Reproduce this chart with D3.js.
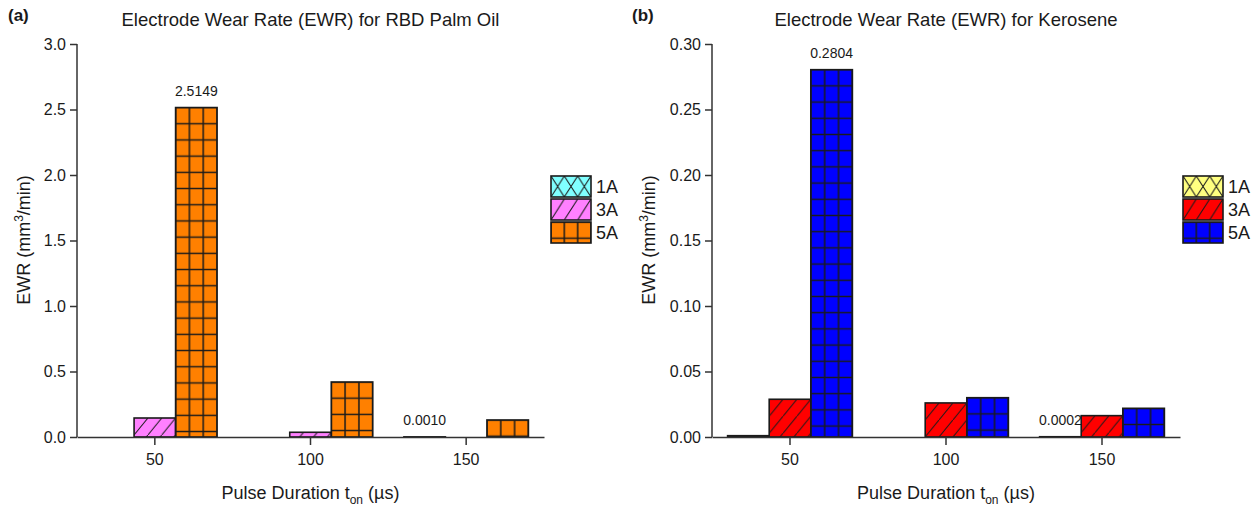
<!DOCTYPE html>
<html><head><meta charset="utf-8">
<script src="https://cdn.jsdelivr.net/npm/d3@7"></script>
<style>
body{margin:0;background:#fff;}
svg{display:block;font-family:"Liberation Sans",Arial,sans-serif;}
</style></head>
<body><svg id="chart" width="1257" height="510"></svg>
<script>
// ---------- data ----------
const durations = ["50", "100", "150"];
const currents = ["1A", "3A", "5A"];
const palm1A = [0, 0, 0.0010];
const palm3A = [0.145, 0.036, 0];
const palm5A = [2.5149, 0.42, 0.13];
const kero1A = [0.0010, 0, 0.0002];
const kero3A = [0.0288, 0.026, 0.0163];
const kero5A = [0.2804, 0.030, 0.0219];
const palmTicks = [0, 0.5, 1.0, 1.5, 2.0, 2.5, 3.0];
const keroTicks = [0, 0.05, 0.10, 0.15, 0.20, 0.25, 0.30];
const palmLabels = [{s: 2, i: 0, text: "2.5149"}, {s: 0, i: 2, text: "0.0010"}];
const keroLabels = [{s: 2, i: 0, text: "0.2804"}, {s: 0, i: 2, text: "0.0002"}];

const svg = d3.select("#chart");
const defs = svg.append("defs");
const ink = "#1a1a1a";

function panel(cfg) {
  const g = svg.append("g");
  const x = d3.scaleBand().domain(durations).range([cfg.x0, cfg.x1]).padding(0);
  const y = d3.scaleLinear().domain([0, cfg.ymax]).range([437, 44]);
  const inner = d3.scaleBand().domain(currents).range([0, x.bandwidth() * 0.8]);
  const bw = inner.bandwidth();
  const groupOff = x.bandwidth() * 0.1;

  // patterns
  function hatchPattern(id, color, px, py, w, h) {
    const tw = w / 3, th = h;
    const p = defs.append("pattern").attr("id", id).attr("patternUnits", "userSpaceOnUse")
      .attr("x", px).attr("y", py).attr("width", tw).attr("height", th);
    p.append("rect").attr("width", tw).attr("height", th).attr("fill", color);
    p.append("path").attr("d", `M${-tw * 0.3},${th * 1.3}L${tw * 1.3},${-th * 0.3}`)
      .attr("stroke", ink).attr("stroke-width", 1);
  }
  function crossPattern(id, color, px, py, w, h) {
    const tw = w / 3, th = h;
    const p = defs.append("pattern").attr("id", id).attr("patternUnits", "userSpaceOnUse")
      .attr("x", px).attr("y", py).attr("width", tw).attr("height", th);
    p.append("rect").attr("width", tw).attr("height", th).attr("fill", color);
    p.append("path").attr("d", `M0,0L${tw},${th}M${tw},0L0,${th}`).attr("stroke", ink).attr("stroke-width", 1);
  }
  function gridPattern(id, color, px, py, w) {
    const cw = w / 3, ch = 16.2;
    const p = defs.append("pattern").attr("id", id).attr("patternUnits", "userSpaceOnUse")
      .attr("x", px - cw / 2).attr("y", py - ch / 2).attr("width", cw).attr("height", ch);
    p.append("rect").attr("width", cw).attr("height", ch).attr("fill", color);
    p.append("path").attr("d", `M${cw / 2},0V${ch}M0,${ch / 2}H${cw}`)
      .attr("stroke", ink).attr("stroke-width", 1.5);
  }
  function fillFor(si, key, px, py, w, h) {
    const id = cfg.id + "-" + key;
    if (si === 0) crossPattern(id, cfg.colors[0], px, py, w, 21);
    else if (si === 1) hatchPattern(id, cfg.colors[1], px, py, w, h || 17);
    else gridPattern(id, cfg.colors[2], px, py, w);
    return `url(#${id})`;
  }

  // bars
  cfg.series.forEach((vals, si) => {
    vals.forEach((v, i) => {
      if (!(v > 0)) return;
      const bx = x(durations[i]) + groupOff + inner(currents[si]);
      const by = y(v);
      const f = fillFor(si, "b" + si + "-" + i, bx, by, bw, 17);
      g.append("rect").attr("x", bx).attr("y", by).attr("width", bw)
        .attr("height", Math.max(0, y(0) - by))
        .attr("fill", f).attr("stroke", ink).attr("stroke-width", 1.6);
    });
  });

  // value labels
  cfg.labels.forEach(l => {
    const v = cfg.series[l.s][l.i];
    const cx = x(durations[l.i]) + groupOff + inner(currents[l.s]) + bw / 2;
    g.append("text").attr("x", cx).attr("y", y(v) - 12).attr("text-anchor", "middle")
      .attr("font-size", 14).attr("fill", ink).text(l.text);
  });

  // axes
  const yAxis = d3.axisLeft(y).tickValues(cfg.ticks).tickFormat(d3.format(cfg.fmt)).tickSize(7).tickPadding(4);
  const ya = g.append("g").attr("transform", `translate(${cfg.x0},0)`).call(yAxis);
  const xAxis = d3.axisBottom(x).tickSize(8).tickPadding(9).tickSizeOuter(0);
  const xa = g.append("g").attr("transform", `translate(0,437)`).call(xAxis);
  [ya, xa].forEach(a => {
    a.select(".domain").attr("stroke", "#333").attr("stroke-width", 1.5);
    a.selectAll(".tick line").attr("stroke", "#333").attr("stroke-width", 1.5);
    a.selectAll(".tick text").attr("font-size", 16).attr("fill", ink)
      .attr("font-family", "'Liberation Sans',Arial,sans-serif");
  });
  ya.select(".domain").attr("d", `M0,${y(cfg.ymax)}V${y(0)}`);

  // titles
  const cx = (cfg.x0 + cfg.x1) / 2;
  g.append("text").attr("x", cx).attr("y", 26).attr("text-anchor", "middle")
    .attr("font-size", 18.5).attr("fill", ink).text(cfg.title);
  g.append("text").attr("x", cfg.panelX).attr("y", 21).attr("font-size", 17)
    .attr("font-weight", "bold").attr("fill", ink).text(cfg.panel);
  const xt = g.append("text").attr("x", cx).attr("y", 499).attr("text-anchor", "middle")
    .attr("font-size", 18).attr("fill", ink);
  xt.append("tspan").text("Pulse Duration t");
  xt.append("tspan").attr("font-size", 12).attr("dy", 5).text("on");
  xt.append("tspan").attr("dy", -5).text(" (\u00b5s)");
  const yt = g.append("text").attr("transform", `translate(${cfg.ytX},240) rotate(-90)`)
    .attr("text-anchor", "middle").attr("font-size", 18).attr("fill", ink);
  yt.append("tspan").text("EWR (mm");
  yt.append("tspan").attr("font-size", 12).attr("dy", -7).text("3");
  yt.append("tspan").attr("dy", 7).text("/min)");

  // legend
  const lg = g.append("g");
  currents.forEach((c, si) => {
    const ly = 176 + si * 23;
    const f = fillFor(si, "leg" + si, cfg.legX, ly, 40, 21);
    lg.append("rect").attr("x", cfg.legX).attr("y", ly).attr("width", 40).attr("height", 21)
      .attr("fill", f).attr("stroke", ink).attr("stroke-width", 1.6);
    lg.append("text").attr("x", cfg.legX + 45).attr("y", ly + 17).attr("font-size", 18)
      .attr("fill", ink).text(c);
  });
}

panel({id: "palm", x0: 77, x1: 544, ymax: 3.0, ticks: palmTicks, fmt: ".1f",
  series: [palm1A, palm3A, palm5A], labels: palmLabels,
  colors: ["#80FFFF", "#FF80FF", "#FF8000"],
  title: "Electrode Wear Rate (EWR) for RBD Palm Oil", panel: "(a)", panelX: 8,
  ytX: 30, legX: 551});
panel({id: "kero", x0: 712, x1: 1180, ymax: 0.30, ticks: keroTicks, fmt: ".2f",
  series: [kero1A, kero3A, kero5A], labels: keroLabels,
  colors: ["#FFFF80", "#FF0000", "#0000FF"],
  title: "Electrode Wear Rate (EWR) for Kerosene", panel: "(b)", panelX: 632,
  ytX: 655, legX: 1183});
</script></body></html>
